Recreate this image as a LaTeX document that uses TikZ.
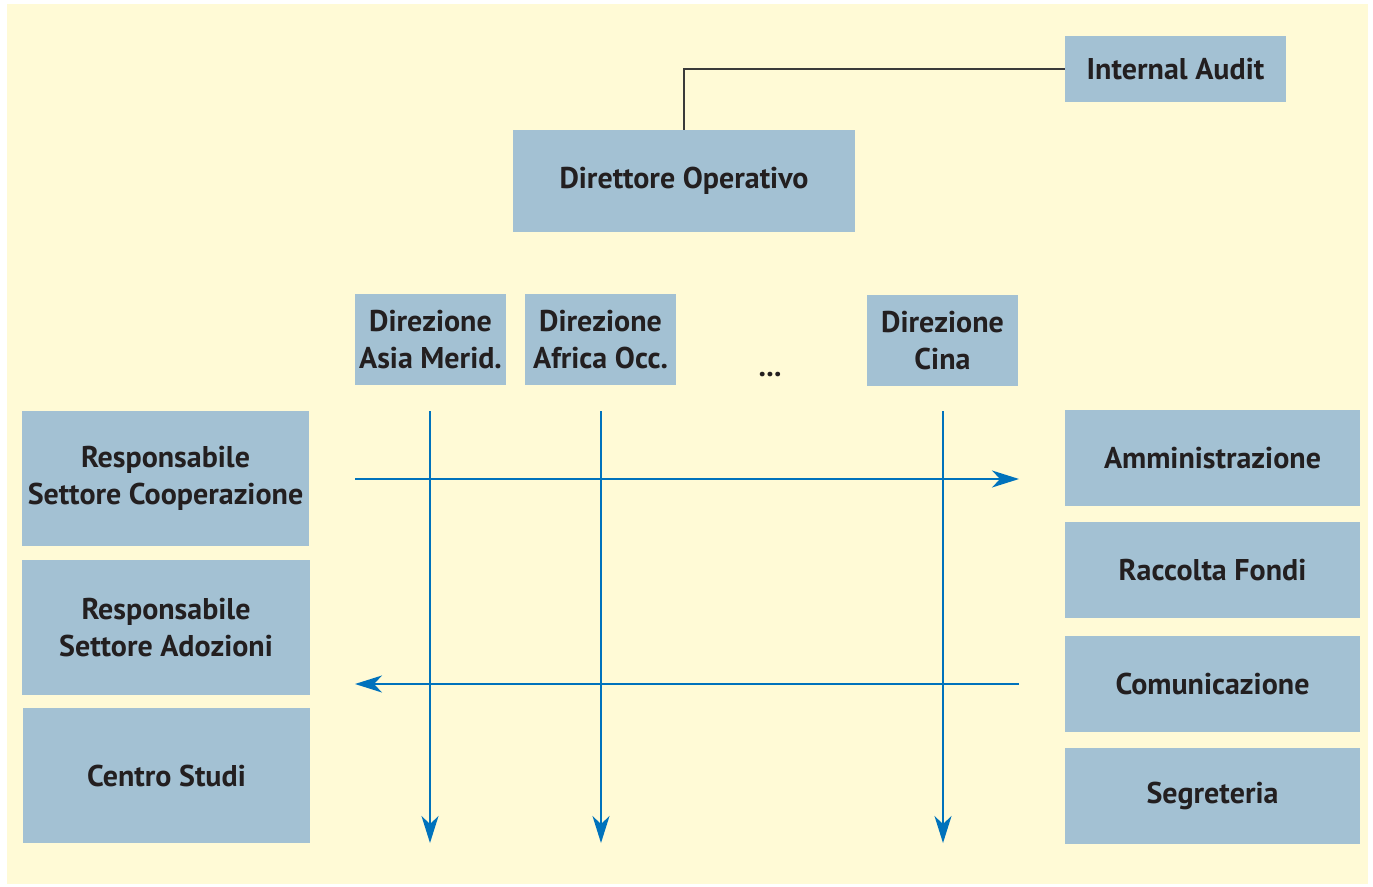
\documentclass[tikz,border=0pt]{standalone}
\usepackage{fontspec}
\setmainfont{PT Sans}
\usetikzlibrary{arrows.meta}
\definecolor{bgcol}{HTML}{FFFAD6}
\definecolor{boxcol}{HTML}{A3C1D3}
\definecolor{linecol}{HTML}{0072BC}
\definecolor{txtcol}{HTML}{231F20}
\definecolor{conncol}{HTML}{3A3A3A}
\begin{document}
\begin{tikzpicture}[x=1pt,y=-1pt,
  box/.style={fill=boxcol,draw=none,inner sep=0pt,align=center,text=txtcol,
    font=\fontsize{30}{37}\selectfont\bfseries},
  flow/.style={draw=linecol,line width=1.4pt,-{Stealth[length=27pt,width=17pt,inset=8pt]}},
  conn/.style={draw=conncol,line width=1.5pt}]
\useasboundingbox (0,0) rectangle (1373,886);
\fill[bgcol] (7,4) rectangle (1368,884);
% top
\node[box,minimum width=221pt,minimum height=66pt] (audit) at (1175.5,69) {Internal Audit};
\node[box,minimum width=342pt,minimum height=102pt] (dir) at (684,181) {\raisebox{-3pt}{Direttore Operativo}};
% direzioni
\node[box,minimum width=151pt,minimum height=91pt] (asia) at (430.5,339.5) {Direzione\\Asia Merid.};
\node[box,minimum width=151pt,minimum height=91pt] (africa) at (600.5,339.5) {Direzione\\Africa Occ.};
\node[box,minimum width=151pt,minimum height=91pt] (cina) at (942.5,340.5) {Direzione\\Cina};
\node[text=txtcol,font=\fontsize{30}{37}\selectfont\bfseries,inner sep=0pt,anchor=base] (dots) at (770,376) {...};
% left
\node[box,minimum width=287pt,minimum height=135pt] (coop) at (165.5,478.5) {Responsabile\\Settore Cooperazione};
\node[box,minimum width=288pt,minimum height=135pt] (adoz) at (166,627.5) {Responsabile\\Settore Adozioni};
\node[box,minimum width=287pt,minimum height=135pt] (studi) at (166.5,775.5) {Centro Studi};
% right
\node[box,minimum width=295pt,minimum height=96pt] (ammin) at (1212.5,458) {Amministrazione};
\node[box,minimum width=295pt,minimum height=96pt] (fondi) at (1212.5,570) {Raccolta Fondi};
\node[box,minimum width=295pt,minimum height=96pt] (comun) at (1212.5,684) {Comunicazione};
\node[box,minimum width=295pt,minimum height=96pt] (segr) at (1212.5,796) {Segreteria};
% connector to audit
\draw[conn] (dir.north) |- (audit.west);
% matrix arrows
\coordinate (v1s) at (430,411); \coordinate (v1e) at (430,843);
\coordinate (v2s) at (601,411); \coordinate (v2e) at (601,843);
\coordinate (v3s) at (943,411); \coordinate (v3e) at (943,843);
\coordinate (h1s) at (355,479); \coordinate (h1e) at (1019,479);
\coordinate (h2s) at (1019,684); \coordinate (h2e) at (355,684);
\draw[flow] (v1s) -- (v1e);
\draw[flow] (v2s) -- (v2e);
\draw[flow] (v3s) -- (v3e);
\draw[flow] (h1s) -- (h1e);
\draw[flow] (h2s) -- (h2e);
\end{tikzpicture}
\end{document}
